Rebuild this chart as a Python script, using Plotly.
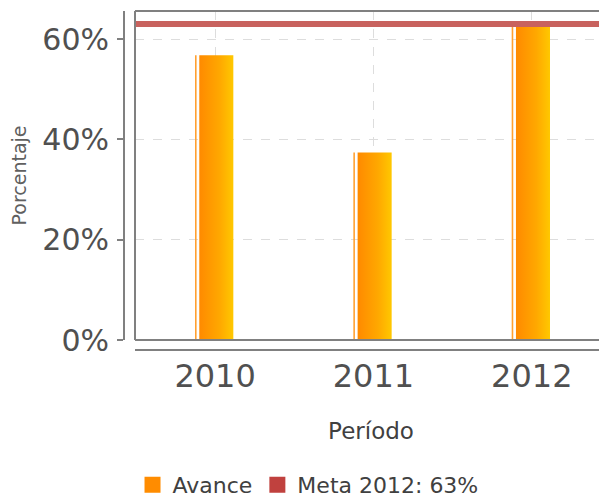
import plotly.graph_objects as go

periods = ["2010", "2011", "2012"]
avance = [56.8, 37.4, 62.4]
meta_value = 63
meta_label = "Meta 2012: 63%"
y_ticks = [0, 20, 40, 60]
y_tick_text = ["0%", "20%", "40%", "60%"]

# the page body has an 8px margin; the figure fills the rest of the window
W, H = 599, 491
fig = go.Figure()

# bar geometry (in category units)
main_l, main_r = -0.10, 0.115
stripe_l, stripe_r = -0.127, -0.117

for i, v in enumerate(avance):
    fig.add_trace(go.Scatter(
        x=[i + stripe_l, i + stripe_r, i + stripe_r, i + stripe_l, i + stripe_l],
        y=[0, 0, v, v, 0], mode="lines", fill="toself",
        fillcolor="#FFA030", line=dict(width=0), showlegend=False, hoverinfo="skip"))
    fig.add_trace(go.Scatter(
        x=[i + main_l, i + main_r, i + main_r, i + main_l, i + main_l],
        y=[0, 0, v, v, 0], mode="lines", fill="toself",
        fillgradient=dict(type="horizontal",
                          colorscale=[[0, "#FF8A00"], [0.6, "#FFA800"], [1, "#FFC800"]]),
        line=dict(width=0), showlegend=False, hoverinfo="skip"))

fig.add_trace(go.Scatter(
    x=[-1, 3], y=[meta_value, meta_value], mode="lines",
    line=dict(color="#C8625E", width=6), showlegend=False, hoverinfo="skip"))

# legend entries
fig.add_trace(go.Scatter(x=[None], y=[None], mode="markers", name="Avance",
                         marker=dict(symbol="square", size=19, color="#FF8C00")))
fig.add_trace(go.Scatter(x=[None], y=[None], mode="markers", name=meta_label,
                         marker=dict(symbol="square", size=19, color="#C0413E")))

ml, mr, mt, mb = 116, 0, 3, 149
pw = W - ml - mr
ph = H - mt - mb
xd0 = 11 / pw
yd0 = 10 / ph

fig.update_layout(
    width=W, height=H,
    margin=dict(l=ml, r=mr, t=mt, b=mb, autoexpand=False),
    plot_bgcolor="white", paper_bgcolor="white",
    font=dict(family="DejaVu Sans", color="#444444"),
    xaxis=dict(domain=[xd0, 1], range=[-0.506, 2.475], automargin=False,
               tickvals=[0, 1, 2], ticktext=periods,
               showgrid=True, gridcolor="#DDDDDD", griddash="dash", gridwidth=1,
               zeroline=False, showline=True, linecolor="#808080", linewidth=2,
               anchor="free", position=0, ticks="",
               tickfont=dict(size=32, color="#505050"), ticklabelstandoff=-2,
               title=dict(text="Período", font=dict(size=23, color="#404040"), standoff=27)),
    yaxis=dict(domain=[yd0, 1], range=[0, 65.6], automargin=False,
               tickvals=y_ticks, ticktext=y_tick_text,
               showgrid=True, gridcolor="#DDDDDD", griddash="dash", gridwidth=1,
               zeroline=False, showline=True, linecolor="#808080", linewidth=2,
               anchor="free", position=0, ticks="outside", ticklen=6,
               tickcolor="#808080", tickwidth=2,
               tickfont=dict(size=30, color="#505050"), ticklabelstandoff=2,
               title=dict(text="Porcentaje", font=dict(size=19, color="#606060"), standoff=14)),
    legend=dict(orientation="h", x=0.381, xanchor="center", y=(342 - 477) / ph, yanchor="middle",
                font=dict(size=22, color="#404040"),
                traceorder="normal"),
    showlegend=True,
    shapes=[
        dict(type="line", xref="x domain", yref="y domain", x0=0, x1=0, y0=0, y1=1,
             line=dict(color="#808080", width=2)),
        dict(type="line", xref="x domain", yref="y domain", x0=0, x1=1.01, y0=1, y1=1,
             line=dict(color="#808080", width=2)),
        dict(type="line", xref="x domain", yref="y domain", x0=0, x1=1.01, y0=0, y1=0,
             line=dict(color="#808080", width=2)),
    ],
)

fig.write_html("out.html")
